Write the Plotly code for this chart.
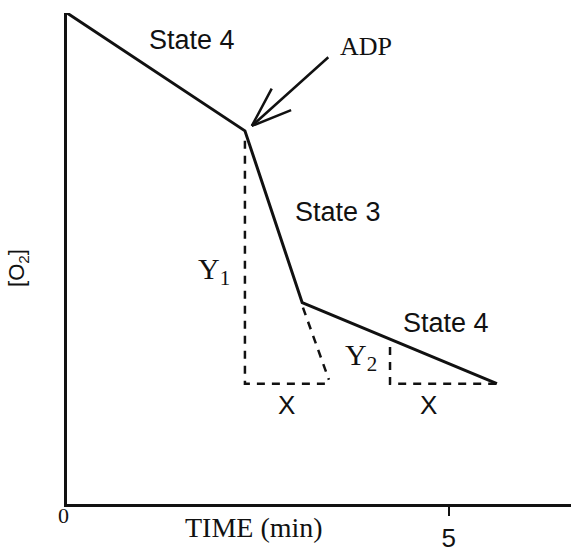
import math
import plotly.graph_objects as go

# ---- data (time in min, [O2] in arbitrary units) ----
time_trace = [0.0, 2.33, 3.08, 5.63]
o2_trace = [100.0, 76.0, 41.0, 24.5]

# construction (dashed) lines
y1_time = [2.33, 2.33, 3.44]
y1_o2 = [74.0, 24.5, 24.5]
extrap_time = [3.09, 3.43]
extrap_o2 = [40.0, 25.3]
y2_time = [4.23, 4.23, 5.63]
y2_o2 = [32.0, 24.5, 24.5]

x_tick_vals = [5]
x_tick_text = ["5"]

SANS = "Liberation Sans, Arial, sans-serif"
SERIF = "Liberation Serif, Times New Roman, serif"
INK = "#111111"

fig = go.Figure()
fig.add_trace(go.Scatter(x=time_trace, y=o2_trace, mode="lines",
                         line=dict(color=INK, width=3), hoverinfo="skip"))
for xs, ys in [(y1_time, y1_o2), (extrap_time, extrap_o2), (y2_time, y2_o2)]:
    fig.add_trace(go.Scatter(x=xs, y=ys, mode="lines",
                             line=dict(color=INK, width=2.5, dash="8px,7px"),
                             hoverinfo="skip"))

def label(x, y, text, font, size, ref="data", **kw):
    xref, yref = ("x", "y") if ref == "data" else ("paper", "paper")
    fig.add_annotation(x=x, y=y, xref=xref, yref=yref, text=text, showarrow=False,
                       font=dict(family=font, size=size, color=INK),
                       xanchor="center", yanchor="middle", **kw)

label(1.64, 94.5, "State 4", SANS, 27)
label(3.55, 59.4, "State 3", SANS, 27)
label(4.96, 36.8, "State 4", SANS, 27)
label(3.91, 93.1, "ADP", SERIF, 26)
label(1.92, 47.5, "Y<sub>1</sub>", SERIF, 30)
label(3.85, 29.9, "Y<sub>2</sub>", SERIF, 30)
label(2.88, 20.2, "X", SANS, 26)
label(4.73, 20.2, "X", SANS, 26)
# texts outside the plotting area, placed in paper coordinates
label(-0.006, -0.024, "0", SERIF, 22, ref="paper")
label(0.371, -0.048, "TIME (min)", SERIF, 28, ref="paper")
label(-0.097, 0.481, "[O<sub>2</sub>]", SANS, 22, ref="paper", textangle=-90)

# ADP arrow: shaft + two barbs (drawn as plain lines)
tip_t, tip_v = 2.42, 77.0
shaft_dx, shaft_dy = 78, -70
fig.add_annotation(x=tip_t, y=tip_v, xref="x", yref="y", text="", showarrow=True,
                   ax=shaft_dx, ay=shaft_dy, arrowhead=0, arrowwidth=2.5,
                   arrowcolor=INK)
ang = math.atan2(shaft_dy, shaft_dx)
for d in (-20, 20):
    a = ang + math.radians(d)
    fig.add_annotation(x=tip_t, y=tip_v, xref="x", yref="y", text="", showarrow=True,
                       ax=44 * math.cos(a), ay=44 * math.sin(a), arrowhead=0,
                       arrowwidth=2.5, arrowcolor=INK)

fig.update_layout(
    width=571, height=553,
    margin=dict(l=67, r=0, t=13, b=45),
    paper_bgcolor="white", plot_bgcolor="white",
    showlegend=False,
    xaxis=dict(range=[0, 6.6], showline=True, linecolor=INK, linewidth=2.5,
               showgrid=False, zeroline=False, ticks="outside", ticklen=9,
               tickwidth=2, tickcolor=INK, tickvals=x_tick_vals,
               ticktext=x_tick_text, tickfont=dict(family=SANS, size=26, color=INK)),
    yaxis=dict(range=[0, 100], showline=True, linecolor=INK, linewidth=2.5,
               showgrid=False, zeroline=False, showticklabels=False, ticks=""),
)

fig.write_html("out.html", config={"displayModeBar": False},
               post_script="document.body.style.margin='0';document.body.style.overflow='hidden';")
